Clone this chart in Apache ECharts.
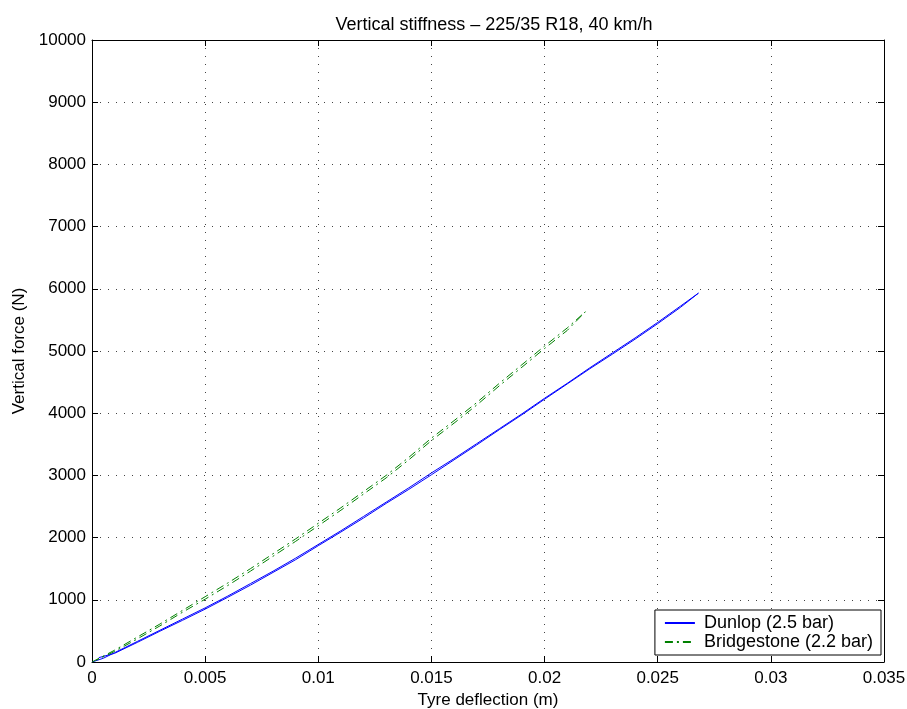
<!DOCTYPE html>
<html><head><meta charset="utf-8">
<script src="https://cdn.jsdelivr.net/npm/echarts@6/dist/echarts.min.js"></script>
<style>html,body{margin:0;padding:0;background:#fff}#c{width:907px;height:709px}</style>
</head><body><div id="c"></div>
<script>
// Tyre deflection (m)
const dunlopLoadX = [0,0.0005,0.001,0.002,0.003,0.004,0.005,0.006,0.007,0.008,0.009,0.010,0.011,0.012,0.013,0.014,0.015,0.016,0.017,0.018,0.019,0.020,0.021,0.022,0.023,0.024,0.025,0.026,0.0268];
const dunlopLoadF = [0,60,150,330,510,690,870,1060,1260,1460,1670,1890,2110,2340,2570,2800,3040,3270,3510,3750,3990,4240,4480,4730,4970,5210,5460,5720,5930];
const dunlopUnloadX = [0.0268,0.026,0.025,0.024,0.023,0.022,0.021,0.020,0.019,0.018,0.017,0.016,0.015,0.014,0.013,0.012,0.011,0.010,0.009,0.008,0.007,0.006,0.005,0.004,0.003,0.002,0.001,0.0003];
const dunlopUnloadF = [5930,5700,5440,5190,4950,4715,4470,4225,3975,3735,3490,3250,3010,2775,2550,2315,2090,1870,1645,1440,1235,1040,850,670,495,315,140,70];
const bridgeLoadX = [0,0.001,0.002,0.003,0.004,0.005,0.006,0.007,0.008,0.009,0.010,0.011,0.012,0.013,0.014,0.015,0.016,0.017,0.018,0.019,0.020,0.021,0.0218];
const bridgeLoadF = [0,190,400,610,830,1050,1270,1500,1740,1980,2230,2480,2740,3000,3290,3600,3880,4170,4480,4780,5080,5370,5630];
const bridgeUnloadX = [0.0218,0.021,0.020,0.019,0.018,0.017,0.016,0.015,0.014,0.013,0.012,0.011,0.010,0.009,0.008,0.007,0.006,0.005,0.004,0.003,0.002,0.001,0.0002];
const bridgeUnloadF = [5630,5330,5040,4740,4440,4130,3840,3560,3250,2960,2700,2440,2190,1940,1700,1460,1230,1010,800,580,370,170,30];
const seriesNames = ['Dunlop (2.5 bar)','Bridgestone (2.2 bar)'];
const xTicks = {min:0, max:0.035, interval:0.005};
const yTicks = {min:0, max:10000, interval:1000};

function pairs(xs, ys){ return xs.map((x,i)=>[x, ys[i]]); }
const dunlopData = pairs(dunlopLoadX, dunlopLoadF).concat(pairs(dunlopUnloadX, dunlopUnloadF));
const bridgeData = pairs(bridgeLoadX, bridgeLoadF).concat(pairs(bridgeUnloadX, bridgeUnloadF));

const font = 'Liberation Sans, Arial, Helvetica, sans-serif';
const fs = 17;
const chart = echarts.init(document.getElementById('c'), null, {renderer:'canvas'});
const gridLine = {show:true, lineStyle:{color:'#444', width:1, type:[1,7]}};
const axisLine = {show:true, onZero:false, lineStyle:{color:'#000', width:1}};
const tick = {show:true, inside:true, length:6, lineStyle:{color:'#000'}};
chart.setOption({
  animation:false,
  backgroundColor:'#fff',
  title:{text:'Vertical stiffness \u2013 225/35 R18, 40 km/h', left:489, top:11, textAlign:'center',
    textStyle:{fontFamily:font, fontSize:18, fontWeight:'normal', color:'#000'}},
  grid:{left:92, right:23, top:40, bottom:47, show:false, containLabel:false, outerBoundsMode:'none'},
  legend:{
    data:seriesNames, orient:'vertical', right:26, bottom:54,
    backgroundColor:'#fff', borderColor:'#000', borderWidth:1, borderRadius:0,
    padding:[4,8,4,9], itemGap:1, itemWidth:30, itemHeight:17,
    itemStyle:{opacity:0},
    textStyle:{fontFamily:font, fontSize:18, color:'#000', padding:[0,0,0,4]}
  },
  xAxis:[
    {type:'value', position:'bottom', min:xTicks.min, max:xTicks.max, interval:xTicks.interval,
     name:'Tyre deflection (m)', nameLocation:'middle', nameGap:26,
     nameTextStyle:{fontFamily:font, fontSize:fs, color:'#000'},
     axisLine:axisLine, axisTick:tick, splitLine:gridLine,
     axisLabel:{fontFamily:font, fontSize:fs, color:'#000', margin:8, formatter:v=>String(+v.toFixed(3))}},
    {type:'value', position:'top', min:xTicks.min, max:xTicks.max, interval:xTicks.interval,
     axisLine:axisLine, axisTick:tick, splitLine:{show:false}, axisLabel:{show:false}}
  ],
  yAxis:[
    {type:'value', position:'left', min:yTicks.min, max:yTicks.max, interval:yTicks.interval,
     name:'Vertical force (N)', nameLocation:'middle', nameGap:62, nameRotate:90,
     nameTextStyle:{fontFamily:font, fontSize:fs, color:'#000'},
     axisLine:axisLine, axisTick:tick, splitLine:gridLine,
     axisLabel:{fontFamily:font, fontSize:fs, color:'#000', margin:6, formatter:v=>String(v)}},
    {type:'value', position:'right', min:yTicks.min, max:yTicks.max, interval:yTicks.interval,
     axisLine:axisLine, axisTick:tick, splitLine:{show:false}, axisLabel:{show:false}}
  ],
  series:[
    {name:seriesNames[0], type:'line', data:dunlopData, showSymbol:false, symbol:'none',
     lineStyle:{color:'#0000ff', width:1}, itemStyle:{color:'#0000ff'}},
    {name:seriesNames[1], type:'line', data:bridgeData, showSymbol:false, symbol:'none',
     lineStyle:{color:'#008000', width:1, type:[8,4,2,4]}, itemStyle:{color:'#008000'}}
  ]
});
</script></body></html>
